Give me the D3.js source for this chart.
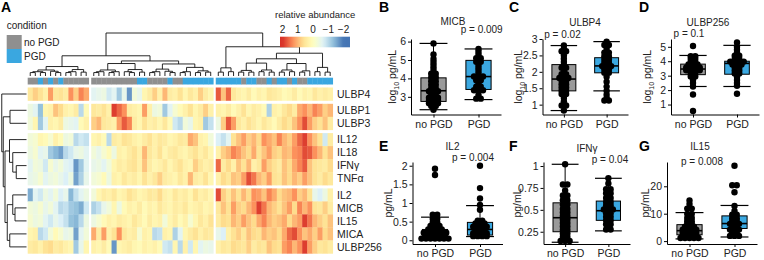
<!DOCTYPE html>
<html>
<head>
<meta charset="utf-8">
<script src="https://cdn.jsdelivr.net/npm/d3@7"></script>
<style>
  body { margin: 0; background: #fff; }
  svg { display: block; font-family: "Liberation Sans", Arial, sans-serif; }
</style>
</head>
<body>
<svg id="chart" width="764" height="260"></svg>
<script>
// ---------- heatmap data ----------
const markers = ["ULBP4", "ULBP1", "ULBP3", "IL12", "IL18", "IFNγ", "TNFα", "IL2", "MICB", "IL15", "MICA", "ULBP256"];
const rowGroup = [0, 1, 1, 2, 2, 2, 2, 3, 3, 3, 3, 3];
const clusterSizes = [12, 24, 23];
// 0 = no PGD, 1 = PGD
const condition = [
  0,0,1,0,1,0,1,0,0,0,0,0,
  0,0,0,0,0,0,0,0,0,1,1,0,0,0,0,1,0,0,1,1,1,1,1,1,
  1,1,1,1,1,0,1,1,0,0,1,0,1,1,0,1,0,0,1,1,1,1,1
];
const abundance = [
  // ULBP4
  [0.5,0.8,0.6,0.3,1.2,0.5,0.6,0.4,1.3,0.8,1.4,1.1, -0.6,-0.5,-0.4,-0.8,-0.6,-1.2,-0.5,-1.7,-0.3,-0.5,0.2,0.4,0.8,0.3,1.0,0.4,0.3,0.6,0.2,0.5,0.3,0.8,0.4,0.2, 1.7,0.9,1.6,0.5,0.3,0.2,0.4,0.1,0.3,0.2,0.5,0.4,0.3,0.1,0.2,0.4,0.1,0.3,0.2,0.5,0.3,0.4,0.3],
  // ULBP1
  [-0.4,-0.6,-1.3,0.2,0.3,0.9,0.7,0.3,0.2,0.4,-1.0,0.1, 0.5,0.4,0.6,0.3,1.9,1.6,1.3,0.4,0.3,0.2,1.2,0.3,-0.4,-0.3,-1.2,-0.6,-0.2,0.1,0.3,0.6,0.2,0.4,0.8,0.3, 0.3,0.2,0.4,0.1,0.3,0.6,0.2,0.4,0.3,0.1,-1.1,0.3,0.2,0.5,0.7,0.4,1.1,1.3,1.0,1.4,1.2,0.8,1.0],
  // ULBP3
  [-0.3,0.2,-1.2,-0.6,0.3,0.2,0.4,-0.4,-0.5,-0.6,0.1,0.3, 0.8,1.0,0.5,0.4,0.3,1.2,1.7,1.4,0.4,0.2,0.6,0.3,0.4,0.2,0.5,0.1,-0.8,-1.0,-0.3,-0.5,0.2,0.3,-1.2,-0.9, -0.4,0.8,1.7,1.2,0.5,0.3,0.6,0.4,0.2,0.5,0.3,0.1,0.4,0.7,0.5,0.9,1.3,1.8,1.2,0.8,0.6,0.9,0.4],
  // IL12
  [-0.3,-0.2,0.2,0.1,-0.2,0.3,0.1,-0.4,-0.3,-1.0,-0.8,-0.9, 0.2,0.3,0.1,-1.0,0.4,0.3,0.6,0.5,0.3,0.2,0.4,0.6,0.3,0.5,0.4,0.2,0.3,0.5,0.4,1.1,0.9,0.3,0.2,-0.3, -0.7,-0.9,-0.6,0.6,0.9,1.2,0.8,1.0,0.7,1.3,1.1,0.9,1.4,1.0,0.8,1.2,1.6,1.9,1.3,0.9,0.6,-0.8,0.4],
  // IL18
  [-0.4,-0.2,-0.6,-0.5,-1.2,-1.4,-1.6,-1.0,-0.8,-0.5,-0.4,-0.6, -0.3,-0.5,-0.2,0.1,-0.4,0.3,0.2,0.4,0.6,0.3,1.0,0.5,0.3,0.6,0.2,0.4,0.5,0.3,0.2,0.4,0.6,0.3,0.5,0.2, 0.3,0.8,1.0,1.4,1.2,0.9,0.7,1.1,0.6,0.9,1.2,0.8,0.7,1.0,0.9,1.3,1.4,1.8,1.7,1.3,1.0,0.6,0.9],
  // IFNγ
  [-0.6,-0.3,-0.4,-0.8,-0.2,-0.5,-0.3,-0.6,-0.7,-1.7,-1.2,-0.6, -0.5,-0.4,-0.6,-0.3,0.2,0.4,0.3,0.5,0.6,0.3,0.9,0.4,0.2,0.3,0.5,0.2,0.4,0.6,0.3,0.2,0.8,0.5,0.3,0.4, 1.6,0.4,0.7,0.3,0.9,0.6,1.0,0.3,0.5,1.2,0.8,0.6,0.4,0.9,0.7,1.1,1.4,1.7,0.9,0.6,0.5,0.4,0.7],
  // TNFα
  [-0.5,-0.4,-0.2,-0.6,-0.4,-0.3,-0.5,-0.7,-0.4,-1.6,-1.1,-0.5, -0.3,-0.2,0.1,-0.4,0.3,0.2,0.5,0.3,0.4,0.2,0.6,0.3,0.5,0.8,0.4,0.3,0.2,0.5,0.3,1.0,0.4,0.3,0.6,0.2, 0.3,0.7,0.5,0.9,0.8,1.2,1.8,1.5,1.0,0.8,1.2,0.6,0.5,0.9,0.7,1.0,0.8,1.2,0.9,0.6,0.4,0.7,0.5],
  // IL2
  [-1.5,-0.6,-0.8,-0.4,-0.6,-0.3,-0.7,-0.5,-1.4,-0.9,-0.6,-0.4, -0.3,0.2,0.4,0.3,0.5,0.2,0.3,0.6,0.4,0.2,0.3,0.5,0.4,0.7,0.3,0.2,0.5,0.3,0.4,0.2,0.6,0.3,0.4,0.2, 1.8,0.8,0.5,0.9,0.6,1.0,0.7,1.3,1.2,0.9,1.4,1.1,0.7,0.9,1.0,1.3,0.8,1.0,0.6,-0.5,-0.7,-0.4,0.3],
  // MICB
  [-0.3,-0.4,-0.2,-0.5,-0.3,-0.6,-1.0,-0.9,-1.2,-1.3,-1.5,-0.8, -1.1,-0.9,-0.5,-0.3,0.2,-0.4,0.1,0.3,0.2,0.4,0.1,0.3,0.2,0.5,0.3,0.2,0.4,0.3,0.5,0.2,0.3,0.4,0.2,0.3, 0.5,0.9,0.6,1.2,0.8,0.7,1.0,1.3,1.9,1.5,1.0,0.8,0.6,0.9,1.2,0.7,1.4,1.0,1.3,0.6,0.5,0.8,0.4],
  // IL15
  [-0.2,-0.4,-0.3,-0.6,-0.8,-0.5,-0.7,-0.9,-1.3,-1.4,-1.0,-0.4, -0.4,-0.2,0.1,0.3,0.2,0.4,0.3,0.2,0.5,0.3,0.1,0.4,0.2,0.3,-0.3,0.2,0.4,0.1,0.3,-0.2,0.2,0.5,0.3,0.6, 0.4,0.7,0.6,1.0,0.8,1.2,0.9,0.7,1.1,1.4,1.0,0.8,0.9,1.1,0.7,1.0,1.2,1.9,1.5,1.0,0.8,0.6,0.9],
  // MICA
  [0.2,0.3,-1.0,-0.8,-0.3,0.1,-0.2,-0.5,-0.4,-1.6,-0.6,-0.3, 1.1,0.4,1.2,0.3,0.6,1.3,0.5,0.3,0.4,-0.2,0.3,0.2,-1.0,-0.9,0.3,0.2,-1.1,-0.6,0.2,0.4,0.6,0.3,0.5,0.4, -0.5,-0.7,0.3,0.6,0.8,0.5,0.9,0.7,0.6,1.0,0.8,0.9,0.7,1.1,1.6,1.8,1.3,0.9,1.1,0.8,1.2,0.7,0.9],
  // ULBP256
  [0.4,0.5,0.3,0.6,0.7,0.4,0.5,0.3,0.2,-1.2,-0.5,0.2, 0.3,0.2,0.4,0.1,-1.7,0.2,0.3,0.4,0.2,0.1,0.3,0.2,0.3,0.1,-0.8,-0.9,0.2,-1.0,0.3,-0.8,0.2,-0.6,-0.4,-0.5, 0.3,0.5,0.4,0.7,0.6,0.5,0.8,0.4,0.6,0.5,0.9,0.7,0.6,1.2,1.4,1.0,1.3,1.9,1.2,0.8,0.5,0.6,0.4]
];
// dendrograms: [mergeHeight, left, right], leaves are column / row indexes
const colTree = [1,
  [0.47,
    [0.22, [0.14, [0.1, [0.08,0,1], [0.08,2,3]], [0.11, 4, [0.08,5,6]]], [0.15, [0.1, [0.08,7,8], 9], [0.09,10,11]]],
    [0.35,
      [0.29, [0.14, [0.1,[0.08,12,13],14], [0.1,[0.08,15,16],17]], [0.15, [0.1,18,[0.08,19,20]], [0.09,21,22]]],
      [0.28, [0.16, [0.1,[0.08,23,24],25], [0.11,26,[0.08,27,28]]], [0.2, [0.1,[0.08,29,30],31], [0.12,[0.08,32,33],[0.09,34,35]]]]]],
  [0.68,
    [0.19, [0.09,36,37], [0.1,38,39]],
    [0.53,
      [0.4,
        [0.3, [0.13,[0.09,40,41],[0.09,42,43]], [0.14,[0.1,44,45],[0.09,46,47]]],
        [0.29, [0.14,[0.09,48,49],[0.1,50,51]], [0.12,[0.09,52,53],54]]],
      [0.2, [0.1,55,56], [0.09,57,58]]]]];
const rowTree = [0.99, 0, [0.93, [0.66,1,2], [0.86, [0.68,3,[0.55,4,[0.41,5,6]]], [0.77,[0.55,7,[0.46,8,9]],[0.67,10,11]]]]];

// colour legend
const legendTicks = [2, 1, 0, -1, -2];
const palette = ["#d73027", "#fc8d59", "#fee090", "#ffffbf", "#e0f3f8", "#91bfdb", "#4575b4"];

// ---------- box plot data ----------
const groups = ["no PGD", "PGD"];
const micbNo  = [5.9,5.3,5.05,4.9,4.75,4.6,4.45,4.3,4.2,4.1,4.0,3.9,3.8,3.7,3.6,3.5,3.42,3.35,3.3,3.25,3.15,3.05,3.0,2.95,2.9,2.85,2.8,2.75,2.7,2.65,2.6,2.55,2.45,2.3];
const micbPgd = [5.6,5.45,5.3,5.15,5.05,4.95,4.85,4.7,4.55,4.4,4.25,4.15,4.1,4.05,3.95,3.85,3.7,3.6,3.5,3.42,3.35,3.3,3.1,2.95,2.85];
const ulbp4No  = [2.8,2.7,2.65,2.6,2.5,2.4,2.3,2.2,2.15,2.1,2.0,1.95,1.9,1.85,1.8,1.78,1.75,1.7,1.65,1.6,1.55,1.5,1.45,1.4,1.35,1.3,1.2,1.1,1.0,0.95,0.82];
const ulbp4Pgd = [2.92,2.85,2.78,2.7,2.62,2.55,2.5,2.45,2.4,2.35,2.3,2.25,2.2,2.18,2.15,2.1,2.05,2.0,1.95,1.85,1.7,1.55,1.42,1.3,1.2,1.15,1.1];
const ulbp256No  = [5.05,4.4,4.3,4.2,4.1,4.0,3.9,3.85,3.8,3.7,3.65,3.6,3.55,3.5,3.45,3.4,3.35,3.3,3.2,3.1,3.0,2.9,2.7,2.5,2.25,1.7,0.55];
const ulbp256Pgd = [5.3,5.0,4.8,4.6,4.45,4.3,4.2,4.1,4.05,4.0,3.95,3.9,3.85,3.8,3.7,3.6,3.5,3.4,3.3,3.2,3.1,2.9,2.7,2.5,2.3,1.75];
const il2No  = [1.92,1.75,0.72,0.65,0.6,0.55,0.5,0.45,0.42,0.38,0.35,0.32,0.3,0.28,0.26,0.24,0.22,0.2,0.19,0.18,0.17,0.15,0.14,0.12,0.1,0.09,0.08,0.06,0.05,0.04,0.03,0.02,0.01];
const il2Pgd = [2.0,1.4,1.12,0.95,0.82,0.55,0.5,0.48,0.45,0.42,0.4,0.38,0.35,0.33,0.3,0.28,0.25,0.22,0.2,0.18,0.16,0.14,0.12,0.1,0.08];
const ifngNo  = [1.02,0.8,0.78,0.72,0.68,0.65,0.62,0.6,0.57,0.55,0.52,0.5,0.48,0.46,0.44,0.42,0.4,0.38,0.36,0.34,0.32,0.3,0.28,0.26,0.24,0.22,0.2,0.18,0.16,0.14,0.13];
const ifngPgd = [0.86,0.8,0.75,0.72,0.7,0.68,0.65,0.62,0.6,0.58,0.56,0.54,0.52,0.5,0.49,0.47,0.45,0.43,0.41,0.39,0.37,0.35,0.32,0.29,0.26];
const il15No  = [14.8,13.5,12.2,11.5,10.4,9.5,8.8,8,7.5,7,6.5,6,5.6,5.2,4.9,4.6,4.3,4,3.8,3.6,3.3,3,2.8,2.5,2.2,2,1.8,1.5,1.3,1.1,0.9,0.8];
const il15Pgd = [27.5,20.5,20.2,17.8,12.8,11,10,9.2,8.7,8,7.5,7,6.6,6.4,6,5.5,5,4.6,4.2,3.8,3.3,2.8,2.3,1.9,1.5];
// box stats per group: [lower whisker, q1, median, q3, upper whisker]
const micbBox    = [[2.3, 2.75, 3.33, 4.03, 5.9], [2.85, 3.4, 4.1, 4.98, 5.6]];
const ulbp4Box   = [[0.82, 1.42, 1.78, 2.22, 2.8], [1.42, 1.97, 2.18, 2.43, 2.92]];
const ulbp256Box = [[2.25, 3.07, 3.46, 3.8, 4.4], [2.25, 3.1, 3.85, 4.0, 5.1]];
const il2Box     = [[0.0, 0.06, 0.17, 0.29, 0.62], [0.1, 0.14, 0.29, 0.48, 0.93]];
const ifngBox    = [[0.13, 0.25, 0.41, 0.58, 1.02], [0.26, 0.38, 0.49, 0.6, 0.86]];
const il15Box    = [[0.8, 2.3, 3.8, 6.0, 10.4], [1.5, 4.6, 6.4, 9.2, 13]];

const panels = [
  { letter: "B", title: "MICB", p: "p = 0.009", no: micbNo, pgd: micbPgd, box: micbBox, domain: [2.04, 6.14], ticks: [3, 4, 5, 6], log: true,
    xr: [411, 501], yr: [114.5, 39], lx: 379, ly: 12, tx: 453, ty: 24.5, pPos: [481.7, 33], yTitleX: 396 },
  { letter: "C", title: "ULBP4", p: "p = 0.02", no: ulbp4No, pgd: ulbp4Pgd, box: ulbp4Box, domain: [0.7, 3.0], ticks: [1, 1.5, 2, 2.5, 3], log: true,
    xr: [542.5, 628], yr: [114.5, 39], lx: 509, ly: 12, tx: 585, ty: 25.5, pPos: [562.5, 37.5], yTitleX: 522 },
  { letter: "D", title: "ULBP256", p: "p = 0.1", no: ulbp256No, pgd: ulbp256Pgd, box: ulbp256Box, domain: [0.31, 5.54], ticks: [1, 2, 3, 4, 5], log: true,
    xr: [671, 759], yr: [114.5, 39], lx: 639, ly: 12, tx: 708, ty: 25.5, pPos: [689, 36.5], yTitleX: 651 },
  { letter: "E", title: "IL2", p: "p = 0.004", no: il2No, pgd: il2Pgd, box: il2Box, domain: [-0.1, 2.1], ticks: [0, 0.5, 1, 1.5, 2], log: false,
    xr: [412.5, 502.5], yr: [244, 162], lx: 379, ly: 150.5, tx: 452.5, ty: 150, pPos: [473, 160.5], yTitleX: 392 },
  { letter: "F", title: "IFNγ", p: "p = 0.04", no: ifngNo, pgd: ifngPgd, box: ifngBox, domain: [0.11, 1.046], ticks: [0.25, 0.5, 0.75, 1], log: false,
    xr: [543.5, 630], yr: [244, 162], lx: 509, ly: 150.5, tx: 587, ty: 152, pPos: [610, 163.3], yTitleX: 520.5 },
  { letter: "G", title: "IL15", p: "p = 0.008", no: il15No, pgd: il15Pgd, box: il15Box, domain: [-1.06, 28.86], ticks: [0, 10, 20], log: false,
    xr: [667, 757], yr: [244, 162], lx: 639, ly: 150.5, tx: 700, ty: 150, pPos: [702, 165], yTitleX: 649 }
];

// ---------- drawing ----------
const FONT = '"Liberation Sans", Arial, sans-serif';
const GRAY = "#8f8f8f", BLUE = "#3aa7e0", BOXGRAY = "#9a9a9a", BOXBLUE = "#3ba8e1";
const svg = d3.select("#chart");

const colCluster = clusterSizes.flatMap((n, i) => Array(n).fill(i));
const nCols = colCluster.length;
const colGap = 2.5, rowGap = 3.3;
const xCol = d3.scaleBand().domain(d3.range(nCols)).range([27.7, 332.7 - 2 * colGap]);
const colX = i => xCol(i) + colCluster[i] * colGap;
const yRow = d3.scaleBand().domain(d3.range(markers.length)).range([87.5, 253.4 - 3 * rowGap]);
const rowY = r => yRow(r) + rowGroup[r] * rowGap;
const color = d3.scaleLinear()
  .domain(palette.map((c, i) => 2 - i * 4 / (palette.length - 1)))
  .range(palette)
  .clamp(true);

// heatmap cells
abundance.forEach((row, r) => {
  svg.append("g").selectAll("rect")
    .data(row)
    .join("rect")
    .attr("x", (d, i) => colX(i))
    .attr("y", rowY(r))
    .attr("width", xCol.bandwidth() + 0.35)
    .attr("height", yRow.bandwidth() + 0.3)
    .attr("fill", d => color(d));
});

// condition bar
svg.append("g").selectAll("rect")
  .data(condition)
  .join("rect")
  .attr("x", (d, i) => colX(i))
  .attr("y", 77.7)
  .attr("width", xCol.bandwidth() + 0.35)
  .attr("height", 6.8)
  .attr("fill", d => d ? BLUE : GRAY);

// row labels
svg.append("g").selectAll("text")
  .data(markers)
  .join("text")
  .attr("x", 337)
  .attr("y", (d, i) => rowY(i) + yRow.bandwidth() / 2)
  .attr("dy", "0.36em")
  .attr("font-size", 10.5)
  .attr("fill", "#222")
  .text(d => d);

// dendrograms
function drawTree(tree, pos, hScale, vertical) {
  const segs = [];
  function walk(node) {
    if (typeof node === "number") return { p: pos(node), h: 0 };
    const [h, a, b] = node;
    const A = walk(a), B = walk(b);
    segs.push([A, B, h]);
    return { p: (A.p + B.p) / 2, h };
  }
  walk(tree);
  svg.append("g").selectAll("path")
    .data(segs)
    .join("path")
    .attr("fill", "none")
    .attr("stroke", "#111")
    .attr("stroke-width", 0.9)
    .attr("d", ([A, B, h]) => vertical
      ? `M${A.p},${hScale(A.h)}V${hScale(h)}H${B.p}V${hScale(B.h)}`
      : `M${hScale(A.h)},${A.p}H${hScale(h)}V${B.p}H${hScale(B.h)}`);
}
drawTree(colTree, i => colX(i) + xCol.bandwidth() / 2, d3.scaleLinear([0, 1], [76, 33]), true);
drawTree(rowTree, r => rowY(r) + yRow.bandwidth() / 2, d3.scaleLinear([0, 1], [26.5, 1.5]), false);

// condition legend
svg.append("text").attr("x", 6.7).attr("y", 28.5).attr("font-size", 10).attr("fill", "#222").text("condition");
svg.append("rect").attr("x", 6.7).attr("y", 35).attr("width", 15).attr("height", 14).attr("fill", GRAY);
svg.append("rect").attr("x", 6.7).attr("y", 49).attr("width", 15).attr("height", 14).attr("fill", BLUE);
svg.append("text").attr("x", 24).attr("y", 46).attr("font-size", 10).attr("fill", "#222").text("no PGD");
svg.append("text").attr("x", 24).attr("y", 60).attr("font-size", 10).attr("fill", "#222").text("PGD");

// colour legend
const legX = d3.scaleLinear([2, -2], [282.5, 343.5]);
const grad = svg.append("defs").append("linearGradient").attr("id", "abund-grad");
grad.selectAll("stop")
  .data(d3.range(0, 1.0001, 0.05))
  .join("stop")
  .attr("offset", t => t)
  .attr("stop-color", t => color(legX.invert(280 + t * 70)));
svg.append("text").attr("x", 275).attr("y", 18).attr("font-size", 9.5).attr("fill", "#222").text("relative abundance");
svg.append("rect").attr("x", 280).attr("y", 36.7).attr("width", 70).attr("height", 10.6).attr("fill", "url(#abund-grad)");
svg.append("g").selectAll("text")
  .data(legendTicks)
  .join("text")
  .attr("x", d => legX(d))
  .attr("y", 32.5)
  .attr("text-anchor", "middle")
  .attr("font-size", 10)
  .attr("fill", "#222")
  .text(d => d < 0 ? "\u2212" + Math.abs(d) : d);

svg.append("text").attr("x", 1).attr("y", 12).attr("font-size", 14).attr("font-weight", "bold").text("A");

// dot-plot layout: values sharing a bin sit side by side
function dotplot(values, y, cx, binw, gapPx) {
  const bins = [];
  let cur = null;
  values.slice().sort((a, b) => a - b).forEach(v => {
    if (cur && v - cur[0] < binw) cur.push(v);
    else { cur = [v]; bins.push(cur); }
  });
  const pts = [];
  bins.forEach(b => {
    const cy = y((b[0] + b[b.length - 1]) / 2);
    b.forEach((v, k) => pts.push([cx + (k - (b.length - 1) / 2) * gapPx, cy]));
  });
  return pts;
}

panels.forEach(p => {
  const g = svg.append("g");
  const x = d3.scalePoint().domain(groups).range(p.xr).padding(0.5);
  const y = d3.scaleLinear().domain(p.domain).range(p.yr);
  const step = x.step();
  const bw = step * 0.56, cw = step * 0.62;
  const binw = (p.domain[1] - p.domain[0]) / 30;

  g.append("text").attr("x", p.lx).attr("y", p.ly).attr("font-size", 14).attr("font-weight", "bold").text(p.letter);
  g.append("text").attr("x", p.tx).attr("y", p.ty).attr("text-anchor", "middle")
    .attr("font-size", 10).attr("fill", "#222").text(p.title);
  g.append("text").attr("x", p.pPos[0]).attr("y", p.pPos[1]).attr("text-anchor", "middle")
    .attr("font-size", 10).attr("fill", "#222").text(p.p);

  // y title
  const yt = g.append("text")
    .attr("transform", `translate(${p.yTitleX},${(p.yr[0] + p.yr[1]) / 2}) rotate(-90)`)
    .attr("text-anchor", "middle").attr("font-size", 10.5).attr("fill", "#222");
  if (p.log) {
    yt.append("tspan").text("log");
    yt.append("tspan").attr("font-size", 7).attr("dy", 3).text("10");
    yt.append("tspan").attr("dy", -3).text(" pg/mL");
  } else {
    yt.text("pg/mL");
  }

  // axes
  const ya = g.append("g").attr("transform", `translate(${p.xr[0]},0)`)
    .call(d3.axisLeft(y).tickValues(p.ticks).tickSize(3).tickSizeOuter(0).tickPadding(2).tickFormat(d => String(d)));
  const xa = g.append("g").attr("transform", `translate(0,${p.yr[0]})`)
    .call(d3.axisBottom(x).tickSize(3).tickSizeOuter(0).tickPadding(3));
  [ya, xa].forEach(a => {
    a.attr("font-family", FONT).attr("font-size", 10.5);
    a.selectAll("text").attr("fill", "#222");
    a.selectAll("path, line").attr("stroke", "#000").attr("stroke-width", 1);
  });

  groups.forEach((grp, gi) => {
    const cx = x(grp);
    const [lo, q1, med, q3, hi] = p.box[gi];
    const vals = gi === 0 ? p.no : p.pgd;
    const bg = g.append("g").attr("stroke", "#000").attr("stroke-width", 1);
    bg.append("line").attr("x1", cx).attr("x2", cx).attr("y1", y(hi)).attr("y2", y(lo));
    bg.append("line").attr("x1", cx - cw / 2).attr("x2", cx + cw / 2).attr("y1", y(hi)).attr("y2", y(hi)).attr("stroke-width", 1.2);
    bg.append("line").attr("x1", cx - cw / 2).attr("x2", cx + cw / 2).attr("y1", y(lo)).attr("y2", y(lo)).attr("stroke-width", 1.2);
    bg.append("rect").attr("x", cx - bw / 2).attr("y", y(q3)).attr("width", bw).attr("height", y(q1) - y(q3))
      .attr("fill", gi === 0 ? BOXGRAY : BOXBLUE);
    bg.append("line").attr("x1", cx - bw / 2).attr("x2", cx + bw / 2).attr("y1", y(med)).attr("y2", y(med)).attr("stroke-width", 1.6);

    g.append("g").selectAll("circle")
      .data(dotplot(vals, y, cx, binw, 4.5))
      .join("circle")
      .attr("cx", d => d[0])
      .attr("cy", d => d[1])
      .attr("r", 3.2)
      .attr("fill", "#000");
  });
});
</script>
</body>
</html>
